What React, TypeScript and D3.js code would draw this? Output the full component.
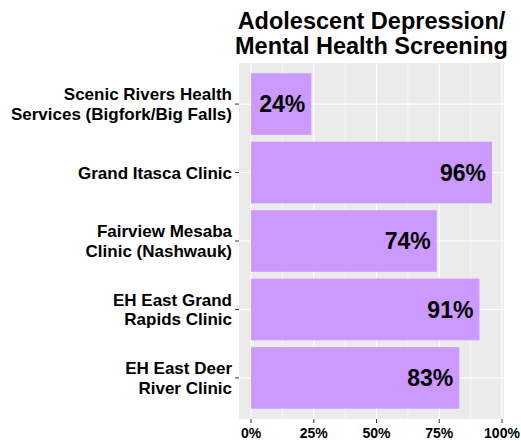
import { useEffect, useRef } from "react";
import * as d3 from "d3";

const clinics = [
  ["Scenic Rivers Health", "Services (Bigfork/Big Falls)"],
  ["Grand Itasca Clinic"],
  ["Fairview Mesaba", "Clinic (Nashwauk)"],
  ["EH East Grand", "Rapids Clinic"],
  ["EH East Deer", "River Clinic"],
];
const rates = [24, 96, 74, 91, 83];
const xTicks = [0, 25, 50, 75, 100];
const xMinor = [12.5, 37.5, 62.5, 87.5];
const titleLines = ["Adolescent Depression/", "Mental Health Screening"];

export default function App() {
  const svgRef = useRef<SVGSVGElement>(null);

  useEffect(() => {
    if (!svgRef.current) return;
    const svg = d3.select(svgRef.current);
    svg.selectAll("*").remove();

    const W = 521, H = 441;
    const margin = { top: 63, right: 17, bottom: 22, left: 239 };
    const width = W - margin.left - margin.right;
    const height = H - margin.top - margin.bottom;
    const font = "'Liberation Sans', Arial, sans-serif";

    svg.attr("width", W).attr("height", H).style("font-family", font);

    const g = svg.append("g").attr("transform", `translate(${margin.left},${margin.top})`);

    // ggplot-like expansion: 5% on continuous, 0.6 units on discrete
    const maxV = d3.max(rates)!;
    const x = d3.scaleLinear().domain([-maxV * 0.05, maxV * 1.05]).range([0, width]);
    const keys = clinics.map((_, i) => String(i));
    const y = d3.scaleBand().domain(keys).range([0, height]).paddingInner(0.1).paddingOuter(0.15);
    const yc = (i: number) => y(String(i))! + y.bandwidth() / 2;

    // Panel
    g.append("rect").attr("width", width).attr("height", height).attr("fill", "#EBEBEB");

    // Grid
    xMinor.forEach(t => {
      g.append("line").attr("x1", x(t)).attr("x2", x(t)).attr("y1", 0).attr("y2", height)
        .attr("stroke", "#fff").attr("stroke-width", 0.55);
    });
    xTicks.forEach(t => {
      g.append("line").attr("x1", x(t)).attr("x2", x(t)).attr("y1", 0).attr("y2", height)
        .attr("stroke", "#fff").attr("stroke-width", 1.1);
    });
    clinics.forEach((_, i) => {
      g.append("line").attr("x1", 0).attr("x2", width).attr("y1", yc(i)).attr("y2", yc(i))
        .attr("stroke", "#fff").attr("stroke-width", 1.1);
    });

    // Bars
    g.selectAll("rect.bar").data(rates).enter().append("rect")
      .attr("class", "bar")
      .attr("x", x(0))
      .attr("y", (_, i) => y(String(i))!)
      .attr("width", d => x(d) - x(0))
      .attr("height", y.bandwidth())
      .attr("fill", "#CC99FF");

    // Labels
    g.selectAll("text.val").data(rates).enter().append("text")
      .attr("class", "val")
      .attr("x", d => x(d) - 6)
      .attr("y", (_, i) => yc(i))
      .attr("dy", "0.36em")
      .attr("text-anchor", "end")
      .attr("font-size", 23)
      .attr("font-weight", "bold")
      .attr("fill", "#000")
      .text(d => `${d}%`);

    // Y axis
    clinics.forEach((lines, i) => {
      g.append("line").attr("x1", -4).attr("x2", 0).attr("y1", yc(i)).attr("y2", yc(i))
        .attr("stroke", "#333").attr("stroke-width", 1);
      const t = g.append("text")
        .attr("text-anchor", "end")
        .attr("font-size", 17)
        .attr("font-weight", "bold")
        .attr("fill", "#000");
      const lh = 19.4;
      const y0 = yc(i) - ((lines.length - 1) * lh) / 2;
      lines.forEach((l, k) => {
        t.append("tspan").attr("x", -7).attr("y", y0 + k * lh).attr("dy", "0.36em").text(l);
      });
    });

    // X axis
    xTicks.forEach(t => {
      g.append("line").attr("x1", x(t)).attr("x2", x(t)).attr("y1", height).attr("y2", height + 4)
        .attr("stroke", "#333").attr("stroke-width", 1);
      g.append("text")
        .attr("x", x(t))
        .attr("y", height + 18.5)
        .attr("text-anchor", "middle")
        .attr("font-size", 14)
        .attr("font-weight", "bold")
        .attr("fill", "#000")
        .text(`${t}%`);
    });

    // Title
    const title = svg.append("text")
      .attr("text-anchor", "middle")
      .attr("font-size", 23.5)
      .attr("font-weight", "bold")
      .attr("fill", "#000");
    titleLines.forEach((l, k) => {
      title.append("tspan").attr("x", margin.left + width / 2).attr("y", 28.5 + k * 25).text(l);
    });
  }, []);

  return (
    <div style={{ position: "absolute", left: 0, top: 0, width: 521, height: 441 }}>
      <svg ref={svgRef} style={{ display: "block" }}></svg>
    </div>
  );
}
